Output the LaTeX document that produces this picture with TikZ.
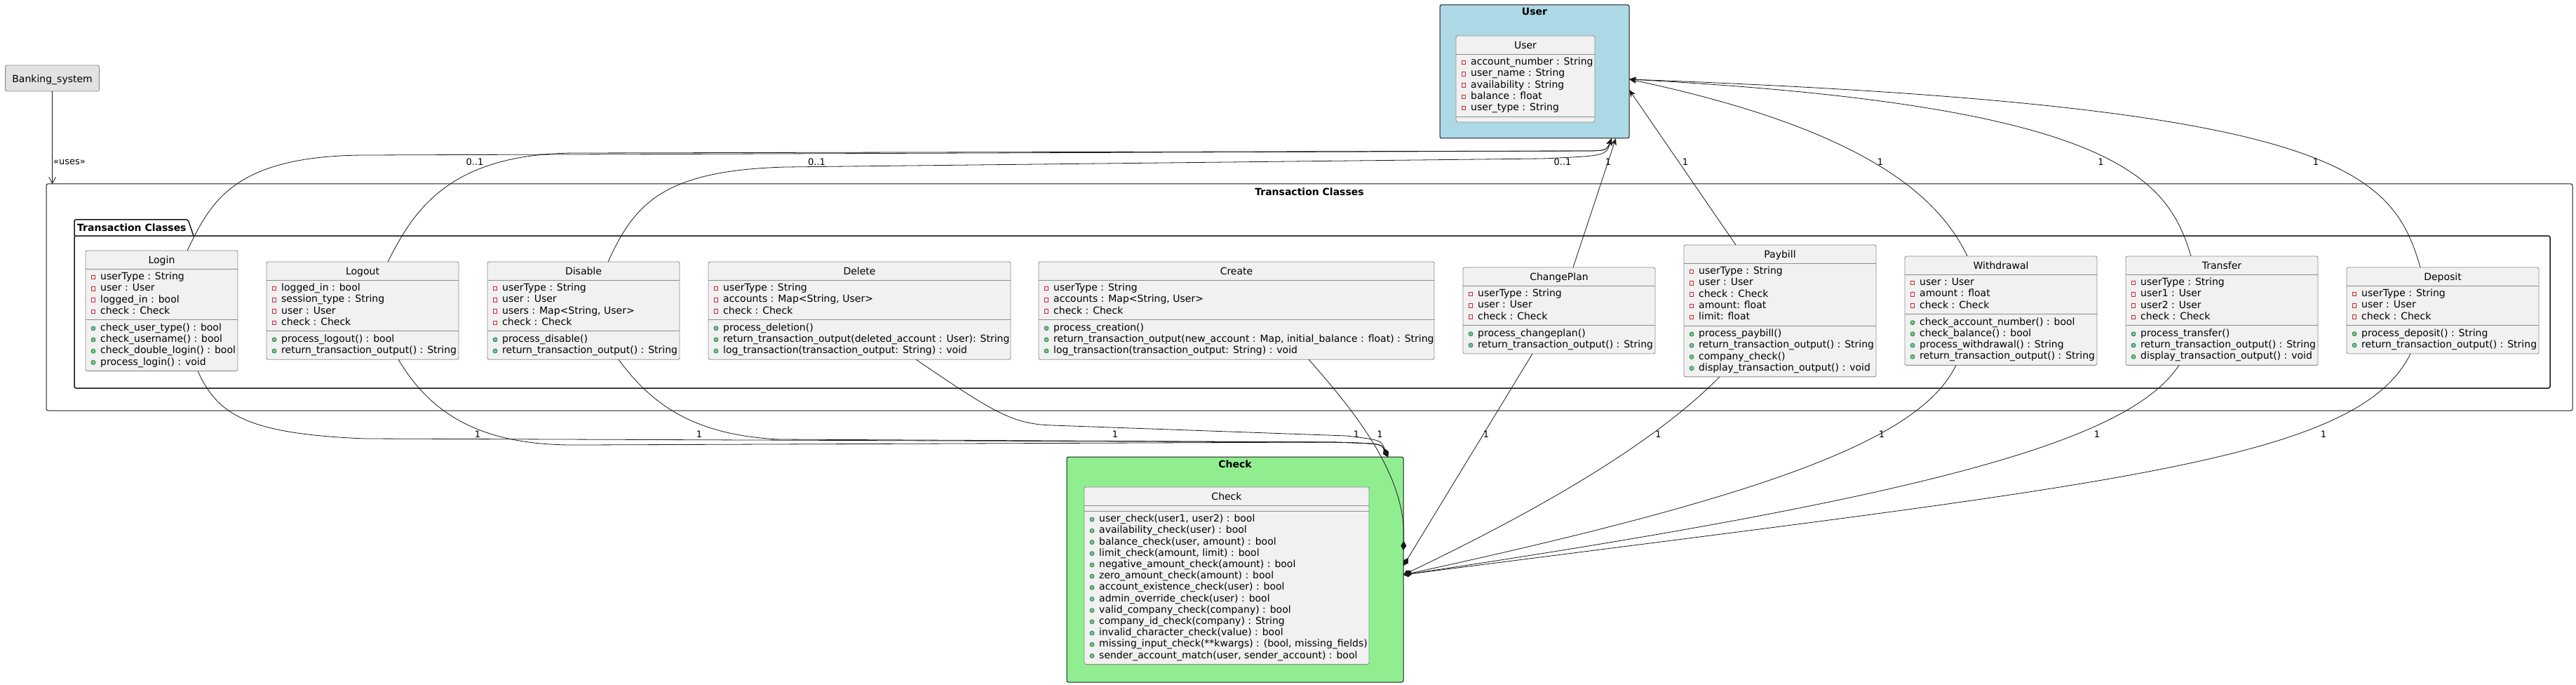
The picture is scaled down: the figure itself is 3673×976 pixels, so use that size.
\documentclass[tikz,border=0pt]{standalone}
\usepackage{fontspec}
\setmainfont{DejaVu Sans}
\usetikzlibrary{arrows.meta}
\definecolor{clsfill}{HTML}{F1F1F1}
\definecolor{clsline}{HTML}{8C8C8C}
\definecolor{privred}{HTML}{C82930}
\definecolor{pubfill}{HTML}{84BE84}
\definecolor{publine}{HTML}{038048}
\definecolor{userblue}{HTML}{ADD8E6}
\definecolor{checkgreen}{HTML}{90EE90}
\definecolor{bankfill}{HTML}{E2E2E2}
\definecolor{linkcol}{HTML}{181818}

\newcount\clsNA
\newcount\clsNM
% #1 node name, #2 title, #3 x left, #4 x right, #5 top, #6 attributes, #7 methods
\newcommand\umlclass[7]{%
  \def\clsTmpA{#6}\def\clsTmpM{#7}%
  \global\clsNA=0 \global\clsNM=0
  \ifx\clsTmpA\empty\else\foreach \q in {#6}{\global\advance\clsNA by 1\relax}\fi
  \ifx\clsTmpM\empty\else\foreach \q in {#7}{\global\advance\clsNM by 1\relax}\fi
  \pgfmathsetmacro\clsSA{#5+26}%
  \pgfmathsetmacro\clsSM{\clsSA+\the\clsNA*16.2+8}%
  \pgfmathsetmacro\clsSB{\clsSM+\the\clsNM*16.2+8}%
  \node[clsbox, anchor=north west, minimum width={#4-#3}, minimum height={\clsSB-#5}] (#1) at (#3,#5) {};
  \draw[sepline] (#3,\clsSA) -- (#4,\clsSA) (#3,\clsSM) -- (#4,\clsSM);
  \node[ctitle] at ({(#3+#4)/2},#5+18.5) {#2};
  \ifx\clsTmpA\empty\else
    \foreach \q [count=\rowi from 0] in {#6}{%
      \pgfmathsetmacro\clsY{\clsSA+12.1+16.2*\rowi}%
      \draw[privicon] (#3+8.5,\clsY-2.7) rectangle (#3+13.5,\clsY+2.7);
      \node[memb] at (#3+21,\clsY+3.6) {\q};
    }%
  \fi
  \ifx\clsTmpM\empty\else
    \foreach \q [count=\rowi from 0] in {#7}{%
      \pgfmathsetmacro\clsY{\clsSM+12.1+16.2*\rowi}%
      \filldraw[pubicon] (#3+11,\clsY) circle[radius=3pt];
      \node[memb] at (#3+21,\clsY+3.6) {\q};
    }%
  \fi
}

\begin{document}
\begin{tikzpicture}[x=1pt,y=-1pt,
  clsbox/.style={draw=clsline, fill=clsfill, line width=0.9pt, rounded corners=2.5pt, inner sep=0pt, outer sep=0pt},
  sepline/.style={draw=clsline, line width=0.9pt},
  ctitle/.style={anchor=base, inner sep=0pt, font=\fontsize{14}{16}\selectfont},
  memb/.style={anchor=base west, inner sep=0pt, font=\fontsize{14}{16}\selectfont},
  privicon/.style={draw=privred, line width=0.9pt},
  pubicon/.style={fill=pubfill, draw=publine, line width=0.7pt},
  pkgbox/.style={draw=linkcol, line width=1pt, rounded corners=2.5pt, inner sep=0pt, outer sep=0pt, anchor=north west},
  ptitle/.style={anchor=base, inner sep=0pt, font=\bfseries\fontsize{14}{16}\selectfont},
  lbl/.style={anchor=base, inner sep=0pt, font=\fontsize{13}{15}\selectfont},
  assoc/.style={draw=linkcol, line width=0.8pt, -{Stealth[length=10pt,width=8pt,inset=3pt]}},
  comp/.style={draw=linkcol, line width=0.8pt, -{Diamond[length=13pt,width=8pt]}},
  usesarrow/.style={draw=linkcol, line width=0.8pt, -{Straight Barb[length=9pt,width=10pt]}},
  bankbox/.style={draw=clsline, fill=bankfill, rounded corners=2.5pt, line width=0.9pt, inner sep=0pt, outer sep=0pt, text height=11.4pt, text depth=0pt, font=\fontsize{14}{16}\selectfont}
]
\useasboundingbox (0,0) rectangle (3673,976);

% ---------- frames and packages ----------
\node[pkgbox, minimum width=3602pt, minimum height=323pt] (txouter) at (66,262) {};
\node[ptitle] at (1867,278.5) {Transaction Classes};

\draw[draw=linkcol, line width=1.5pt, rounded corners=2pt] (106,336) -- (106,313) -- (268,313) -- (276,336);
\node[pkgbox, line width=1.5pt, minimum width=3530pt, minimum height=217pt] (txpkg) at (106,336) {};
\node[ptitle, anchor=base west] at (110,330) {Transaction Classes};

\node[pkgbox, fill=userblue, minimum width=270pt, minimum height=190pt] (userpkg) at (2053,7) {};
\node[ptitle] at (2188,22) {User};

\node[pkgbox, fill=checkgreen, minimum width=480pt, minimum height=321pt] (checkpkg) at (1521,651) {};
\node[ptitle] at (1761,666.5) {Check};

\node[bankbox, minimum width=134pt, minimum height=37pt] (bank) at (74.6,111.5) {Banking\_system};

% ---------- classes ----------
\umlclass{usercls}{User}{2076}{2274}{51}{account\_number : String, user\_name : String, availability : String, balance : float, user\_type : String}{}

\umlclass{login}{Login}{122}{339}{357}{userType : String, user : User, logged\_in : bool, check : Check}{check\_user\_type() : bool, check\_username() : bool, check\_double\_login() : bool, process\_login() : void}

\umlclass{logout}{Logout}{380}{654}{373}{logged\_in : bool, session\_type : String, user : User, check : Check}{process\_logout() : bool, return\_transaction\_output() : String}

\umlclass{disable}{Disable}{695}{969}{373}{userType : String, user : User, {users : Map<String, User>}, check : Check}{process\_disable(), return\_transaction\_output() : String}

\umlclass{delete}{Delete}{1010}{1441}{373}{userType : String, {accounts : Map<String, User>}, check : Check}{process\_deletion(), return\_transaction\_output(deleted\_account : User): String, log\_transaction(transaction\_output: String) : void}

\umlclass{create}{Create}{1481}{2045}{373}{userType : String, {accounts : Map<String, User>}, check : Check}{process\_creation(), {return\_transaction\_output(new\_account : Map, initial\_balance : float) : String}, log\_transaction(transaction\_output: String) : void}

\umlclass{changeplan}{ChangePlan}{2086}{2360}{381}{userType : String, user : User, check : Check}{process\_changeplan(), return\_transaction\_output() : String}

\umlclass{paybill}{Paybill}{2401}{2675}{349}{userType : String, user : User, check : Check, amount: float, limit: float}{process\_paybill(), return\_transaction\_output() : String, company\_check(), display\_transaction\_output() : void}

\umlclass{withdrawal}{Withdrawal}{2716}{2990}{365}{user : User, amount : float, check : Check}{check\_account\_number() : bool, check\_balance() : bool, process\_withdrawal() : String, return\_transaction\_output() : String}

\umlclass{transfer}{Transfer}{3031}{3305}{365}{userType : String, user1 : User, user2 : User, check : Check}{process\_transfer(), return\_transaction\_output() : String, display\_transaction\_output() : void}

\umlclass{deposit}{Deposit}{3346}{3620}{381}{userType : String, user : User, check : Check}{process\_deposit() : String, return\_transaction\_output() : String}

\umlclass{checkcls}{Check}{1546}{1952}{694}{}{{user\_check(user1, user2) : bool}, availability\_check(user) : bool, {balance\_check(user, amount) : bool}, {limit\_check(amount, limit) : bool}, negative\_amount\_check(amount) : bool, zero\_amount\_check(amount) : bool, account\_existence\_check(user) : bool, admin\_override\_check(user) : bool, valid\_company\_check(company) : bool, company\_id\_check(company) : String, invalid\_character\_check(value) : bool, {missing\_input\_check(**kwargs) : (bool, missing\_fields)}, {sender\_account\_match(user, sender\_account) : bool}}

% ---------- connector end points ----------
\coordinate (uB1) at ([xshift=245pt]userpkg.south west);
\coordinate (uB2) at ([xshift=251pt]userpkg.south west);
\coordinate (uR1) at ([yshift=-106pt]userpkg.north east);
\coordinate (uR2) at ([yshift=-121pt]userpkg.north east);
\coordinate (cT)  at ([xshift=458pt]checkpkg.north west);
\coordinate (cR1) at ([yshift=-133pt]checkpkg.north east);
\coordinate (cR2) at ([yshift=-155pt]checkpkg.north east);
\coordinate (cR3) at ([yshift=-168pt]checkpkg.north east);

% ---------- uses ----------
\draw[usesarrow] (bank.south) -- (bank.south |- txouter.north);
\node[lbl, anchor=base west] at (76,235) {«uses»};

% ---------- associations to User ----------
\draw[assoc] ([xshift=145pt]login.north west) .. controls (300,290) and (330,222) .. (520,221) -- (2270,215) .. controls (2291,214) .. (uB1);
\draw[assoc] ([xshift=173pt]logout.north west) .. controls (590,300) and (640,219) .. (820,218) -- (2270,215) .. controls (2291,214) .. (uB1);
\draw[assoc] ([xshift=172pt]disable.north west) .. controls (905,290) and (945,243) .. (1120,238) -- (2200,226) .. controls (2290,222) .. (uB1);
\draw[assoc] ([xshift=157pt]changeplan.north west) -- (uB2);
\draw[assoc] ([xshift=74pt]paybill.north west) -- (uR2);
\draw[assoc] ([xshift=89pt]withdrawal.north west) .. controls (2760,270) and (2640,180) .. (uR1);
\draw[assoc] ([xshift=93pt]transfer.north west) .. controls (3090,250) and (3010,150) .. (uR1);
\draw[assoc] ([xshift=105pt]deposit.north west) .. controls (3410,240) and (3330,150) .. (uR1);

\node[lbl] at (677,235.3) {0..1};
\node[lbl] at (1164.5,235.3) {0..1};
\node[lbl] at (2228,235.3) {0..1};
\node[lbl] at (2293,235.3) {1};
\node[lbl] at (2403,235.3) {1};
\node[lbl] at (2681,235.3) {1};
\node[lbl] at (2995.5,235.3) {1};
\node[lbl] at (3302,235.3) {1};

% ---------- compositions to Check ----------
\draw[comp] ([xshift=160pt]login.south west) .. controls (310,590) and (350,618) .. (520,625) -- (1900,630) .. controls (1969,632) .. (cT);
\draw[comp] ([xshift=188pt]logout.south west) .. controls (620,600) and (700,636) .. (830,634) -- (1900,630) .. controls (1969,632) .. (cT);
\draw[comp] ([xshift=187pt]disable.south west) .. controls (935,585) and (1000,620) .. (1110,626) -- (1900,630) .. controls (1969,632) .. (cT);
\draw[comp] ([xshift=296pt]delete.south west) .. controls (1420,590) and (1445,604) .. (1500,606) -- (1920,621) .. controls (1969,627) .. (cT);
\draw[comp] ([xshift=385pt]create.south west) .. controls (1935,590) and (2006,680) .. (cR1);
\draw[comp] ([xshift=99pt]changeplan.south west) -- (cR2);
\draw[comp] ([xshift=51pt]paybill.south west) .. controls (2380,610) and (2250,700) .. (cR3);
\draw[comp] ([xshift=73pt]withdrawal.south west) .. controls (2740,620) and (2550,700) .. (cR3);
\draw[comp] ([xshift=76pt]transfer.south west) .. controls (3040,620) and (2800,700) .. (cR3);
\draw[comp] ([xshift=91pt]deposit.south west) .. controls (3360,660) and (3000,690) .. (cR3);

\node[lbl] at (681,623.3) {1};
\node[lbl] at (997,623.3) {1};
\node[lbl] at (1590,623.3) {1};
\node[lbl] at (1934,623.3) {1};
\node[lbl] at (1967.5,623.3) {1};
\node[lbl] at (2119,623.3) {1};
\node[lbl] at (2364.5,623.3) {1};
\node[lbl] at (2683,623.3) {1};
\node[lbl] at (2990,623.3) {1};
\node[lbl] at (3313,623.3) {1};
\end{tikzpicture}
\end{document}
